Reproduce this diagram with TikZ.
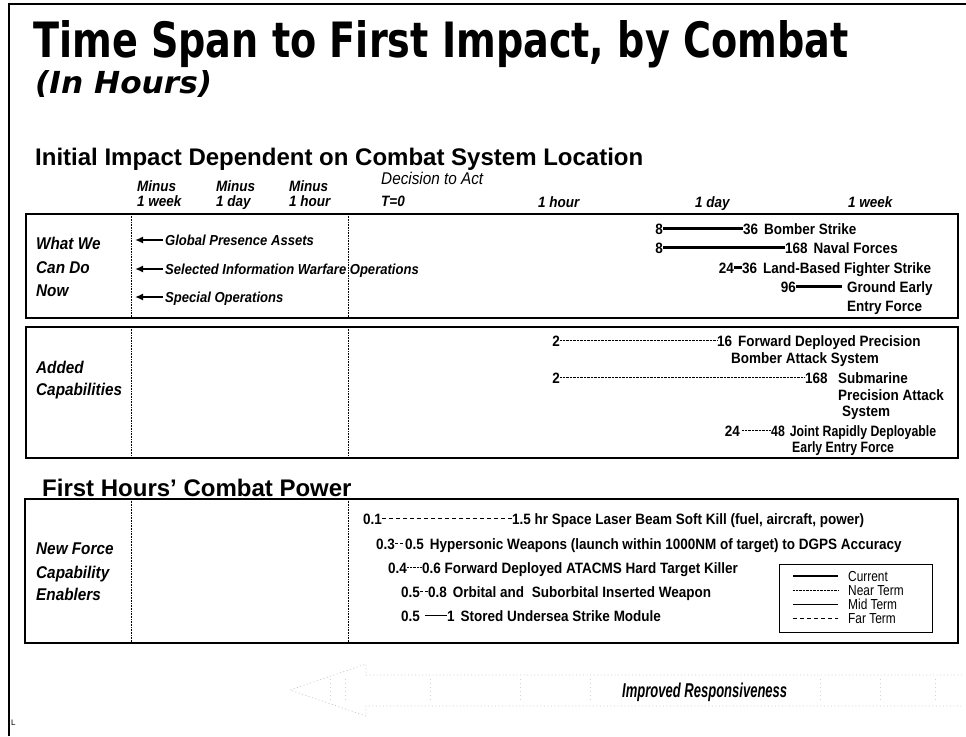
\documentclass[tikz,border=0pt]{standalone}
\usepackage{fontspec}
\usepackage{graphicx}
\usetikzlibrary{arrows.meta}
\setmainfont{Liberation Sans}
\newfontfamily\dvfont{DejaVu Sans}
\newfontfamily\nar[FakeStretch=0.9]{Liberation Sans}
\newfontfamily\narr[FakeStretch=0.82]{Liberation Sans}
\begin{document}
\begin{tikzpicture}[x=1pt,y=-1pt,
  every node/.style={inner sep=0pt},
  frameline/.style={line width=1.6pt},
  boxline/.style={line width=1.6pt},
  vdot/.style={line width=0.8pt, dash pattern=on 0.8pt off 0.8pt},
  hdr/.style={anchor=base west, font=\nar\bfseries\itshape\fontsize{15}{15}\selectfont},
  side/.style={anchor=base west, font=\nar\bfseries\itshape\fontsize{17}{17}\selectfont},
  itrow/.style={anchor=base west, text height=10pt, text depth=0pt, font=\nar\bfseries\itshape\fontsize{14.5}{15}\selectfont},
  val/.style={font=\nar\bfseries\fontsize{15}{15}\selectfont, text height=10.5pt, text depth=0pt},
  vs/.style={val, anchor=base east},
  ve/.style={val, anchor=base west},
  vl/.style={anchor=base west, font=\nar\bfseries\fontsize{15}{15}\selectfont},
  cur/.style={line width=2.8pt},
  nearterm/.style={line width=0.7pt, dash pattern=on 0.7pt off 0.7pt},
  midterm/.style={line width=1pt},
  farterm/.style={line width=1pt, dash pattern=on 4pt off 3pt},
  leg/.style={anchor=base west, font=\narr\fontsize{14.5}{14.5}\selectfont},
  larrow/.style={-{Latex[length=8pt,width=7pt]}, line width=1.6pt, shorten <=2pt}
]
\useasboundingbox (0,0) rectangle (966,736);

% outer frame
\draw[frameline] (9,736) -- (9,4) -- (966,4);

% titles
\node[anchor=base west] (title) at (33,57)
  {\resizebox{815pt}{37pt}{\dvfont\bfseries Time Span to First Impact, by Combat}};
\node[anchor=base west] (sub) at (35,93)
  {\resizebox{177pt}{23pt}{\dvfont\bfseries\itshape (In Hours)}};
\node[anchor=base west, font=\bfseries\fontsize{24}{24}\selectfont] (h1) at (35,165)
  {Initial Impact Dependent on Combat System Location};

% column headers
\node[hdr] (m1a) at (137,191) {Minus};
\node[hdr] (m1b) at (137,206) {1 week};
\node[hdr] (m2a) at (216,191) {Minus};
\node[hdr] (m2b) at (216,206) {1 day};
\node[hdr] (m3a) at (289,191) {Minus};
\node[hdr] (m3b) at (289,206) {1 hour};
\node[anchor=base west, font=\nar\itshape\fontsize{17}{17}\selectfont] (dec) at (381,184) {Decision to Act};
\node[hdr] (t0) at (381,206) {T=0};
\node[hdr] (c1) at (538,207) {1 hour};
\node[hdr] (c2) at (695,207) {1 day};
\node[hdr] (c3) at (848,207) {1 week};

% boxes
\draw[boxline] (26,214) rectangle (958,318);
\draw[boxline] (26,327) rectangle (958,458);
\draw[boxline] (25,499) rectangle (958,643);
\foreach \yt/\yb in {214/318, 327/458, 499/643}{
  \draw[vdot] (131,\yt) -- (131,\yb);
  \draw[vdot] (348,\yt) -- (348,\yb);
}

% side labels
\node[side] (s1) at (36,249) {What We};
\node[side] (s2) at (36,273) {Can Do};
\node[side] (s3) at (36,296) {Now};
\node[side] (s4) at (36,373) {Added};
\node[side] (s5) at (36,395) {Capabilities};
\node[side] (s6) at (36,554) {New Force};
\node[side] (s7) at (36,578) {Capability};
\node[side] (s8) at (36,600) {Enablers};

% row 1 arrows
\node[itrow] (g1) at (165,245) {Global Presence Assets};
\node[itrow] (g2) at (165,274) {Selected Information Warfare Operations};
\node[itrow] (g3) at (165,302) {Special Operations};
\coordinate (g1t) at (135,240);
\coordinate (g2t) at (135,269);
\coordinate (g3t) at (135,297);
\draw[larrow] (g1.west) -- (g1t);
\draw[larrow] (g2.west) -- (g2t);
\draw[larrow] (g3.west) -- (g3t);

% box 1 current lines
\node[vs] (a1) at (663,234) {8};
\node[ve] (a2) at (743,234) {36\hspace{6pt}Bomber Strike};
\draw[cur] (a1) -- (a2);
\node[vs] (b1) at (663,253) {8};
\node[ve] (b2) at (785,253) {168\hspace{6pt}Naval Forces};
\draw[cur] (b1) -- (b2);
\node[vs] (c1a) at (734,273) {24};
\node[ve] (c1b) at (742,273) {36\hspace{6pt}Land-Based Fighter Strike};
\draw[cur] (c1a) -- (c1b);
\node[vs] (d1) at (796,292) {96};
\node[ve] (d2) at (847,292) {Ground Early};
\draw[cur, shorten >=5pt] (d1) -- (d2);
\node[vl] (d3) at (847,311) {Entry Force};

% box 2 near term lines
\node[vs] (e1) at (560,346) {2};
\node[ve] (e2) at (717,346) {16\hspace{6pt}Forward Deployed Precision};
\draw[nearterm] (e1) -- (e2);
\node[vl] (e3) at (731,363) {Bomber Attack System};
\node[vs] (f1) at (560,383) {2};
\node[ve] (f2) at (805,383) {168};
\draw[nearterm] (f1) -- (f2);
\node[vl] (f3) at (838,383) {Submarine};
\node[vl] (f4) at (838,400) {Precision Attack};
\node[vl] (f5) at (842,416) {System};
\node[vs] (h1a) at (740,436) {24};
\node[ve, font=\narr\bfseries\fontsize{15}{15}\selectfont] (h1b) at (771,436) {48\hspace{5pt}Joint Rapidly Deployable};
\draw[nearterm, shorten <=2pt] (h1a) -- (h1b);
\node[vl, font=\narr\bfseries\fontsize{15}{15}\selectfont] (h1c) at (792,452) {Early Entry Force};

% box 3
\node[vs] (p1) at (382,524) {0.1};
\node[ve] (p2) at (512,524) {1.5 hr Space Laser Beam Soft Kill (fuel, aircraft, power)};
\draw[farterm] (p1) -- (p2);
\node[vs] (q1) at (395,549) {0.3};
\node[ve] (q2) at (405,549) {0.5\hspace{6pt}Hypersonic Weapons (launch within 1000NM of target) to DGPS Accuracy};
\draw[farterm, dash pattern=on 3pt off 2pt] (q1) -- (q2);
\node[vs] (r1) at (407,573) {0.4};
\node[ve] (r2) at (422,573) {0.6 Forward Deployed ATACMS Hard Target Killer};
\draw[nearterm] (r1) -- (r2);
\node[vs] (u1) at (420,597) {0.5};
\node[ve] (u2) at (428,597) {0.8\hspace{6pt}Orbital and\hspace{4pt} Suborbital Inserted Weapon};
\draw[farterm, dash pattern=on 3pt off 2pt] (u1) -- (u2);
\node[vs] (w1) at (420,621) {0.5};
\node[ve] (w2) at (447,621) {1\hspace{6pt}Stored Undersea Strike Module};
\draw[midterm, shorten <=5pt] (w1) -- (w2);

% legend
\draw[line width=1pt] (779,564) rectangle (932,632);
\coordinate (l1a) at (793,576); \coordinate (l1b) at (838,576);
\coordinate (l2a) at (793,590); \coordinate (l2b) at (838,590);
\coordinate (l3a) at (793,604); \coordinate (l3b) at (838,604);
\coordinate (l4a) at (793,618); \coordinate (l4b) at (838,618);
\draw[cur] (l1a) -- (l1b);
\draw[nearterm] (l2a) -- (l2b);
\draw[midterm] (l3a) -- (l3b);
\draw[farterm] (l4a) -- (l4b);
\node[leg] (lt1) at (848,581) {Current};
\node[leg] (lt2) at (848,595) {Near Term};
\node[leg] (lt3) at (848,609) {Mid Term};
\node[leg] (lt4) at (848,623) {Far Term};

% first hours heading
\node[anchor=base west, font=\bfseries\fontsize{24}{24}\selectfont] (h2) at (42,496) {First Hours’ Combat Power};

% bottom arrow
\draw[gray!40, line width=0.8pt, dash pattern=on 1pt off 2.5pt]
  (962,675) -- (366,675) -- (366,664) -- (290,690) -- (366,716) -- (366,706) -- (962,706);
\foreach \xx in {330,345,430,520,590,820,880,935}{
  \draw[gray!35, line width=0.8pt, dash pattern=on 1pt off 3pt] (\xx,679) -- (\xx,702);
}
\node[anchor=base west] (imp) at (622,697)
  {\resizebox{165pt}{14.5pt}{\nar\bfseries\itshape Improved Responsiveness}};

\node[anchor=base west, font=\fontsize{8}{8}\selectfont] (mark) at (11,725) {L};
\end{tikzpicture}
\end{document}
